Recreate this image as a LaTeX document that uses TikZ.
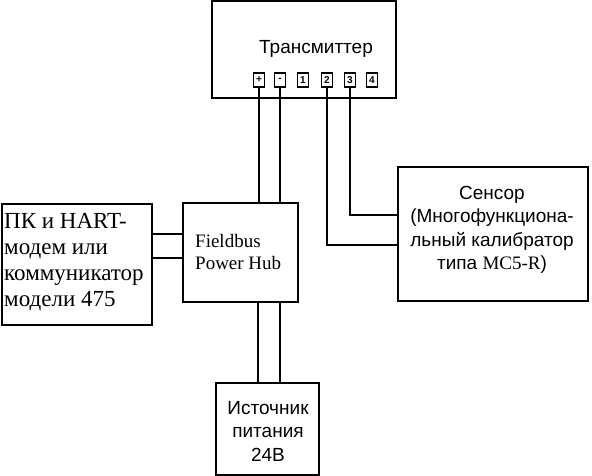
\documentclass[tikz,border=0pt]{standalone}
\usepackage{fontspec}
\setmainfont{Liberation Serif}
\newfontfamily\arialf{Liberation Sans}
\begin{document}
\begin{tikzpicture}[x=1pt,y=-1pt,
  box/.style={draw, line width=2pt, inner sep=0pt},
  term/.style={draw, line width=1.7pt, minimum width=11pt, minimum height=14pt, inner sep=0pt, font=\arialf\bfseries\fontsize{10}{10}\selectfont},
  wire/.style={line width=2pt},
  sanslbl/.style={font=\arialf\fontsize{19}{23.5}\selectfont, align=center, inner sep=0pt},
  seriflbl/.style={align=left, inner sep=0pt}]
\useasboundingbox (0,0) rectangle (592,476);
% boxes
\node[box, minimum width=184pt, minimum height=97pt] (tx) at (304,49.5) {};
\node[sanslbl] (txl) at (316,49) {Трансмиттер};
\node[term] (t1) at (259,80) {+};
\node[term] (t2) at (280,80) {-};
\node[term] (t3) at (303,80) {1};
\node[term] (t4) at (327,80) {2};
\node[term] (t5) at (350,80) {3};
\node[term] (t6) at (372,80) {4};
\node[box, minimum width=115pt, minimum height=99pt] (hub) at (240.5,252.5) {};
\node[seriflbl, anchor=west, font=\fontsize{19}{23}\selectfont] (hubl) at (195,252) {Fieldbus\\Power Hub};
\node[box, minimum width=150pt, minimum height=121pt] (pk) at (77,264) {};
\node[seriflbl, anchor=west, font=\fontsize{23}{26}\selectfont] (pkl) at (4,262) {ПК и HART-\\модем или\\коммуникатор\\модели 475};
\node[box, minimum width=190pt, minimum height=134pt] (sen) at (493,234) {};
\node[sanslbl] (senl) at (492,230) {Сенсор\\(Многофункциона-\\льный калибратор\\типа {\rmfamily MC5-R})};
\node[box, minimum width=103pt, minimum height=92pt] (psu) at (267.5,429) {};
\node[sanslbl] (psul) at (268,431) {Источник\\питания\\24В};
% wire levels
\coordinate (y3) at (0,215);
\coordinate (y2) at (0,245);
% wires
\draw[wire] (t1.south) -- (t1.south |- hub.north);
\draw[wire] (t2.south) -- (t2.south |- hub.north);
\draw[wire] (t4.south) |- (sen.west |- y2);
\draw[wire] (t5.south) |- (sen.west |- y3);
\coordinate (p1) at (0,234);
\coordinate (p2) at (0,258);
\draw[wire] (pk.east |- p1) -- (hub.west |- p1);
\draw[wire] (pk.east |- p2) -- (hub.west |- p2);
\coordinate (v1) at (258,0);
\coordinate (v2) at (280,0);
\draw[wire] (hub.south -| v1) -- (psu.north -| v1);
\draw[wire] (hub.south -| v2) -- (psu.north -| v2);
\end{tikzpicture}
\end{document}
